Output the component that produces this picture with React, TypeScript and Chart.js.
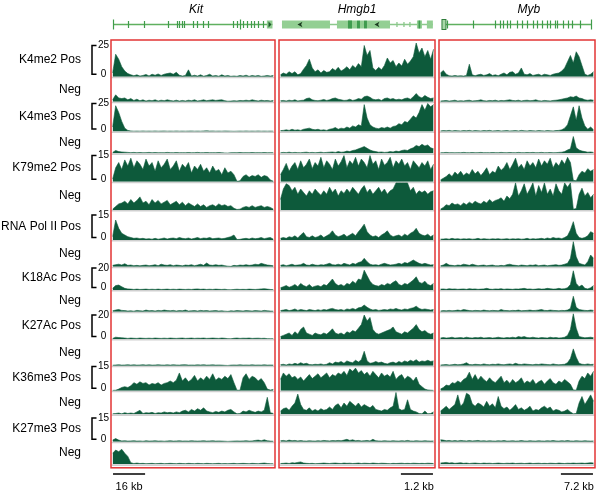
import React, { useEffect, useRef } from 'react';
import { Chart, registerables } from 'chart.js';

Chart.register(...registerables);

// ---------------- data (values in each track's scale units) ----------------
const GENES = ['Kit', 'Hmgb1', 'Myb'];
const MARKS = ['K4me2', 'K4me3', 'K79me2', 'RNA Pol II', 'K18Ac', 'K27Ac', 'K36me3', 'K27me3'];
const SCALE_TICKS = [25, 25, 15, 15, 20, 20, 15, 15];
const SCALE_BAR_LABELS = ['16 kb', '1.2 kb', '7.2 kb'];
const BINS = Array.from({ length: 54 }, (_, i) => i);

// Kit
const kitK4me2Pos = [3, 18, 14, 8, 4.5, 2.5, 1.5, 0.8, 1.5, 0.5, 1, 1.8, 0.6, 2, 1.2, 2.2, 1, 2, 2.5, 3, 2, 3.5, 1.2, 0.5, 1, 5.5, 0.5, 1.2, 0.5, 1.5, 0.4, 1, 2, 0.5, 1, 0.4, 1.5, 0.5, 1, 0.3, 0.6, 0.3, 1, 0.5, 1.2, 0.3, 1, 0.5, 1, 0.3, 0.6, 1, 0.5, 1];
const kitK4me2Neg = [1.5, 5.5, 3, 2.5, 3, 1.5, 2.5, 1, 2, 0.8, 1.5, 0.5, 1.2, 0.8, 1.5, 0.6, 1.2, 0.8, 1.5, 1, 0.6, 1.2, 0.5, 1, 0.6, 1.2, 0.8, 1.5, 0.6, 1, 1.5, 0.8, 1.2, 1.5, 1, 1.3, 1.5, 0.8, 0.4, 0.5, 0.8, 0.6, 1, 0.8, 1.2, 0.8, 1.5, 1, 0.6, 1.2, 0.8, 1, 0.6, 1];
const kitK4me3Pos = [4, 23, 17, 9, 3, 1, 0.5, 0.3, 0.4, 0.3, 0.5, 0.3, 0.4, 0.3, 0.5, 0.3, 0.4, 0.5, 0.3, 0.4, 0.3, 0.5, 0.3, 0.4, 0.3, 0.4, 0.5, 0.3, 0.4, 0.3, 0.5, 0.6, 0.4, 0.5, 0.3, 0.4, 0.3, 0.5, 0.4, 0.3, 0.2, 0.3, 0.4, 0.3, 0.5, 0.3, 0.4, 0.3, 0.5, 0.3, 0.4, 0.3, 0.4, 0.3];
const kitK4me3Neg = [0.8, 2.5, 1.5, 1.2, 1, 0.8, 0.6, 0.8, 0.5, 0.7, 0.5, 0.6, 0.8, 0.5, 0.7, 0.5, 0.6, 0.5, 0.8, 0.6, 0.5, 0.7, 0.5, 0.6, 0.5, 0.7, 0.5, 0.6, 0.8, 0.5, 0.6, 0.7, 0.5, 0.6, 0.5, 0.7, 0.5, 0.3, 0.2, 0.5, 0.6, 0.5, 0.7, 0.5, 0.6, 0.5, 0.7, 0.5, 0.6, 0.5, 0.7, 0.5, 0.6, 0.5];
const kitK79me2Pos = [1.5, 8, 11, 7, 12.5, 9, 13.5, 8, 12, 10, 7, 13, 9, 11, 6, 12, 8, 10, 13, 7, 9, 12, 6, 10, 8, 11, 5, 9, 7, 10, 6, 8, 5, 9, 6, 7, 4, 8, 5, 6, 4, 0.2, 0.5, 3, 4, 2.5, 3.5, 3, 4, 2.5, 3.5, 3, 1, 0.3];
const kitK79me2Neg = [0.5, 2, 3.5, 4, 5, 3.5, 6, 4, 5.5, 7.5, 4, 5, 3, 6, 4, 5.5, 3.5, 4.5, 5.5, 3, 4, 5, 3, 4.5, 2.5, 4, 3, 2, 3.5, 2, 3, 1.5, 2.5, 3, 2, 3.5, 2.5, 3, 2, 2.5, 1, 0.3, 0.5, 1.5, 2, 1.5, 2.5, 1.5, 2, 2.5, 1.5, 2, 1.5, 0.5];
const kitRnaPos = [2, 12, 7, 4, 3, 2, 1.5, 1, 1.2, 0.8, 1, 0.6, 0.8, 0.5, 1, 0.5, 0.8, 1.2, 0.6, 1, 1.2, 0.8, 1.5, 1, 0.8, 1.2, 0.6, 1, 1.5, 0.8, 1.2, 1, 1.5, 0.8, 1, 1.2, 0.8, 1, 1.5, 2, 3, 0.3, 0.4, 0.8, 1, 0.6, 1.2, 0.8, 1, 1.5, 0.8, 1.2, 1.5, 0.5];
const kitRnaNeg = [0.8, 1.2, 1.5, 1, 1.8, 0.8, 1, 0.6, 0.8, 0.5, 0.8, 1, 0.6, 0.8, 1.2, 0.6, 1.5, 1, 0.8, 1.2, 0.6, 1, 0.8, 0.5, 1, 0.8, 1.2, 0.6, 1, 1.5, 0.8, 2.2, 1, 0.8, 1.2, 0.8, 1, 0.6, 0.3, 0.2, 0.8, 0.6, 1, 0.8, 1.2, 0.8, 1, 1.5, 1.2, 2, 1.5, 1, 0.8, 0.5];
const kitK18AcPos = [1.5, 4, 4.5, 3, 1.5, 1, 0.8, 0.5, 0.8, 0.5, 0.6, 0.8, 0.5, 0.7, 0.5, 0.8, 0.5, 0.6, 0.8, 0.5, 0.7, 0.5, 0.8, 0.6, 0.5, 0.7, 0.5, 0.8, 1, 0.6, 0.8, 0.5, 0.7, 0.5, 0.8, 0.6, 0.5, 0.7, 0.3, 0.2, 0.5, 0.7, 0.5, 0.6, 0.5, 0.8, 0.6, 0.5, 0.7, 1, 1.2, 0.8, 0.5, 0.3];
const kitK18AcNeg = [0.8, 1.5, 2, 1.2, 1, 0.6, 0.8, 0.5, 1.2, 0.8, 0.6, 1.5, 0.8, 1, 0.6, 1.2, 0.8, 1.5, 1, 0.8, 1.2, 0.6, 1, 0.8, 1.5, 0.6, 0.8, 1, 0.6, 1.2, 0.8, 1, 0.6, 0.8, 1, 0.6, 0.8, 0.5, 0.3, 0.8, 0.6, 1, 0.8, 0.6, 1, 0.8, 0.6, 1, 0.8, 0.6, 1.2, 0.8, 0.6, 0.5];
const kitK27AcPos = [0.5, 1.5, 1.2, 1, 0.8, 0.5, 0.8, 0.6, 0.5, 0.8, 0.6, 0.5, 0.7, 0.5, 0.8, 0.6, 0.5, 0.7, 0.5, 0.8, 0.6, 0.5, 0.7, 0.8, 0.5, 0.6, 0.8, 0.5, 0.7, 0.6, 0.8, 0.5, 0.6, 0.8, 0.6, 0.5, 0.8, 0.6, 0.3, 0.2, 0.6, 0.8, 0.5, 0.7, 0.6, 0.8, 0.5, 0.6, 0.7, 0.5, 0.6, 0.3, 0.2, 0.2];
const kitK27AcNeg = [0.4, 0.6, 0.8, 0.5, 0.6, 0.8, 0.5, 0.7, 0.5, 0.6, 0.8, 0.5, 0.7, 0.5, 0.6, 0.8, 0.6, 0.5, 0.7, 0.5, 0.8, 0.6, 0.5, 0.7, 0.8, 0.5, 0.6, 0.5, 0.7, 0.6, 0.8, 0.5, 0.6, 0.7, 0.5, 0.6, 0.5, 0.3, 0.2, 0.5, 0.6, 0.5, 0.7, 0.5, 0.6, 0.5, 0.7, 0.5, 0.6, 0.5, 0.7, 0.5, 0.6, 0.5];
const kitK36me3Pos = [0.2, 0.3, 1, 2, 2.5, 2, 3, 5, 4, 5.5, 4.5, 5, 3.5, 4.5, 4, 5, 3.5, 4.5, 5, 6, 5, 6.5, 11, 6, 8, 5.5, 7, 9.5, 6, 8, 6.5, 9, 7, 10.5, 6.5, 8, 7, 9, 7.5, 10, 5, 0.3, 0.3, 8, 10.5, 7, 9, 8, 6, 7.5, 5, 1, 0.4, 0.8];
const kitK36me3Neg = [0.3, 0.5, 0.8, 0.3, 1, 0.5, 0.8, 0.5, 1.5, 2.5, 0.5, 1, 0.8, 1.2, 0.5, 1, 0.8, 1.5, 1, 1.2, 0.8, 1.5, 1, 2, 2.5, 1.5, 3, 2, 3.5, 2.5, 4, 2, 1.5, 1, 1.8, 1.2, 2, 1.5, 2.5, 3, 1.5, 0.3, 0.5, 2, 1.5, 2.5, 1.8, 1.2, 2, 1.5, 2.5, 10.5, 1, 0.5];
const kitK27me3Pos = [1, 2, 1, 0.5, 0.6, 0.4, 0.5, 0.6, 0.4, 0.5, 0.3, 0.6, 0.4, 0.5, 0.6, 0.4, 0.5, 0.3, 0.5, 0.6, 0.4, 0.5, 0.6, 0.4, 0.5, 0.4, 0.6, 0.5, 0.4, 0.5, 0.6, 0.4, 0.5, 0.6, 0.4, 0.5, 0.4, 0.3, 0.2, 0.3, 0.4, 0.5, 0.4, 0.5, 0.6, 0.4, 0.5, 0.8, 1, 0.6, 1.2, 0.6, 0.4, 0.3];
const kitK27me3Neg = [7, 9, 8, 9.5, 7, 5, 1, 0.5, 0.8, 0.5, 0.6, 0.4, 0.5, 0.6, 0.4, 0.5, 0.6, 0.4, 0.5, 0.6, 0.5, 0.4, 0.6, 0.5, 0.4, 0.6, 0.5, 0.4, 0.6, 0.5, 0.4, 0.6, 0.5, 0.4, 0.5, 0.6, 0.4, 0.5, 0.4, 0.5, 0.6, 0.4, 0.5, 0.6, 0.5, 0.4, 0.6, 0.5, 0.4, 0.6, 0.8, 0.5, 0.4, 0.3];

// Hmgb1
const hmgK4me2Pos = [1.5, 3, 2, 4, 2.5, 4, 1.5, 2.5, 6, 9, 14, 7, 4, 5.5, 3, 5, 3.5, 4, 6.5, 5, 7.5, 4.5, 6, 8, 5.5, 9, 7, 10.5, 8, 25, 17, 21, 7, 5, 7.5, 5.5, 9, 15, 11, 13, 8, 11, 8.5, 14, 10, 12.5, 16, 27, 19, 23, 16, 21, 14, 22];
const hmgK4me2Neg = [0.8, 1, 0.6, 1.2, 0.8, 1.5, 0.6, 1, 1.2, 2.5, 3, 1.5, 1, 0.8, 1.2, 1.8, 1, 1.5, 2.5, 3, 2, 1.5, 1, 1.2, 2, 1, 1.5, 2.5, 2, 4, 4.5, 3.5, 2, 1.5, 2, 1, 2.5, 3, 2, 2.5, 1.5, 2, 1.5, 2.5, 3, 2, 4, 6.5, 4, 3, 5, 3.5, 2.5, 3];
const hmgK4me3Pos = [0.8, 1, 1.5, 1, 2, 1.2, 1.5, 1, 2, 2.5, 3, 2, 1.5, 2, 1.2, 1.5, 1, 2, 2.5, 3.5, 2, 3, 2.5, 4, 3, 5, 4, 6, 5, 24, 12, 6, 4, 3, 2.5, 3.5, 3, 4, 3, 4.5, 5, 7, 6, 9, 8, 11, 14, 12, 17, 24, 19, 25, 22, 24];
const hmgK4me3Neg = [0.5, 0.8, 0.6, 1, 0.5, 0.8, 0.6, 0.5, 0.8, 1, 0.6, 0.8, 0.5, 0.7, 1, 0.6, 0.8, 1, 1.2, 0.8, 1.5, 1, 1.2, 2, 1.5, 2.5, 3, 4, 5, 6, 4.5, 3, 2, 1.5, 1, 1.2, 0.8, 1, 1.5, 1.2, 2, 1.5, 2.5, 3, 2.5, 4, 5, 7, 6, 8, 6.5, 7.5, 5, 4];
const hmgK79me2Pos = [4, 7, 10.5, 6, 9, 11, 7, 12, 8, 10, 13, 7.5, 11, 9, 14, 8, 12, 10, 7, 13, 9, 11.5, 15, 8, 12, 10, 14, 9, 13, 11, 8, 15, 10, 12, 7, 13, 9.5, 11, 14, 8, 12, 10, 13, 9, 11, 7, 12, 10, 8, 11, 9, 12, 7, 10];
const hmgK79me2Neg = [6, 12, 15, 14, 11, 13, 9, 12, 10, 8, 11, 9, 12, 10, 8.5, 11, 9, 13, 10, 12, 8, 11, 9.5, 12, 10, 13, 11, 9, 12, 14, 10, 12, 9, 11, 13, 10, 12, 9, 11, 12, 15.5, 15.5, 15.5, 15.5, 15.5, 11, 13, 9, 11, 10, 11, 9, 10.5, 11];
const hmgRnaPos = [1, 1.5, 1, 2, 1.5, 2.5, 1.2, 3, 4.5, 2, 1.5, 2.5, 1.5, 2, 3, 1.5, 2.5, 3.5, 5.5, 3, 2, 2.5, 3.5, 2, 3, 4, 2.5, 5, 7, 9.5, 5, 3, 2, 2.5, 1.5, 3, 4, 5.5, 3, 2, 2.5, 3, 2, 3.5, 2.5, 4, 5, 7, 4, 3, 2.5, 3.5, 2, 3];
const hmgRnaNeg = [0.8, 1.2, 0.6, 1, 1.5, 0.8, 1, 1.2, 2, 1, 0.8, 1.5, 1, 0.8, 1.2, 1, 1.5, 2, 1.2, 1, 1.5, 1, 2, 1.5, 1, 2, 1.5, 2.5, 3, 5, 3, 1.5, 1, 1.2, 0.8, 1.5, 2, 1.5, 1, 1.2, 1.5, 2, 1.5, 2.5, 2, 3, 4, 3, 2, 1.5, 2, 1.5, 1, 1.2];
const hmgK18AcPos = [2, 3, 4, 2.5, 3.5, 5, 3, 6, 4, 3, 5, 2.5, 3.5, 4, 3, 5, 4, 7, 10, 6, 4, 5, 3.5, 6, 5, 8, 6, 10, 9, 18, 13, 8, 5, 4, 3.5, 5, 4, 6, 5, 7, 8.5, 5, 4, 6, 5, 7, 9, 12, 7, 6, 8, 5, 4, 6];
const hmgK18AcNeg = [1, 1.5, 2, 1, 1.5, 2.5, 1.2, 2, 1.5, 1, 2, 1.5, 1, 1.8, 1.2, 2, 1.5, 2.5, 3, 2, 1.5, 2, 1.2, 2.5, 2, 3, 2, 3.5, 4, 6, 4, 2.5, 1.5, 2, 1.2, 1.5, 2, 1.5, 2.5, 2, 3, 2, 1.5, 2.5, 2, 3, 3.5, 5, 3, 2, 2.5, 2, 1.5, 2];
const hmgK27AcPos = [2, 3, 4, 5, 3, 6, 4, 8, 10, 5, 4, 3, 5, 4, 3.5, 5, 4, 6, 8.5, 5, 4, 5, 3.5, 6, 5, 7, 6, 9, 12, 20, 15, 18, 8, 5, 4, 5, 6, 7, 8, 10, 6, 5, 4, 6, 5, 7, 9, 12, 8, 6, 7, 5, 4, 5];
const hmgK27AcNeg = [0.8, 1.2, 0.6, 1.5, 1, 2, 1.2, 2.5, 1.5, 2, 1, 0.8, 1.2, 1, 1.5, 0.8, 1.2, 2.5, 1.5, 3, 2.5, 3.5, 2, 4, 3, 2.5, 4.5, 3, 5, 12, 4, 2, 2.5, 3.5, 2.5, 3, 2, 1.5, 2.5, 3, 2, 3.5, 2.5, 4, 3, 4.5, 3.5, 5, 3, 4, 3.5, 4.5, 3.5, 4];
const hmgK36me3Pos = [7, 11, 9, 10.5, 8, 9, 7, 8.5, 6, 8, 10, 7.5, 9, 10.5, 8, 9.5, 11, 8, 10, 9, 11, 10, 12, 9.5, 13.5, 12, 14, 11, 12.5, 10, 11.5, 9, 12, 10, 8, 11, 9, 10, 8.5, 12, 7, 9, 10, 7, 9, 8, 6, 8.5, 4, 2.5, 1, 0.5, 0.3, 0.2];
const hmgK36me3Neg = [2, 3.5, 4, 2.5, 5, 7, 12.5, 6, 3, 2.5, 4, 2, 3, 2, 3.5, 2.5, 3, 4.5, 3, 5.5, 6.5, 4, 7, 5, 8, 6.5, 5, 7, 4.5, 6, 5, 4, 5.5, 3, 2.5, 2, 3, 2.5, 4, 5, 13.5, 3.5, 2.5, 3, 9, 3, 2, 1.5, 0.5, 0.3, 2, 0.3, 0.5, 1.5];
const hmgK27me3Pos = [0.6, 0.8, 0.5, 1, 0.6, 0.8, 0.5, 0.7, 0.5, 0.4, 0.6, 0.5, 0.4, 0.6, 0.5, 0.8, 0.6, 0.5, 0.7, 0.6, 0.8, 0.6, 1, 1.5, 0.8, 1.2, 0.6, 0.8, 0.5, 0.6, 0.8, 0.5, 1.5, 0.6, 0.5, 0.4, 0.6, 0.5, 0.4, 0.6, 0.5, 0.4, 0.6, 0.5, 0.8, 0.5, 0.4, 0.6, 0.5, 0.4, 0.6, 0.5, 0.4, 0.5];
const hmgK27me3Neg = [0.5, 0.6, 0.8, 0.5, 1, 0.8, 1.2, 1.5, 0.8, 0.6, 0.5, 0.6, 0.4, 0.5, 0.6, 0.8, 0.6, 0.5, 0.7, 0.8, 0.6, 0.5, 0.8, 0.6, 0.7, 0.5, 0.6, 0.8, 0.5, 0.7, 0.6, 0.5, 0.8, 0.6, 0.5, 0.7, 0.6, 0.5, 0.4, 0.6, 0.5, 0.6, 0.7, 0.5, 0.6, 0.5, 0.7, 0.6, 0.5, 0.6, 0.5, 0.7, 0.6, 0.5];

// Myb
const mybK4me2Pos = [3, 5, 2, 0.8, 0.5, 1, 0.6, 0.8, 0.5, 1, 10, 1.5, 0.8, 1.5, 2, 1, 1.5, 2.5, 1, 1.5, 0.8, 2, 3, 1.5, 3.5, 4, 2, 3, 7, 2, 1.5, 2.5, 1, 1.5, 2, 1, 2, 1.5, 1, 2, 2.5, 3, 4.5, 7, 12, 17, 11, 20, 16, 9, 2, 1, 2, 4];
const mybK4me2Neg = [0.5, 0.8, 1, 0.5, 0.8, 1.2, 0.5, 0.8, 0.6, 1, 1.2, 0.6, 0.8, 1, 1.5, 0.8, 0.6, 1, 0.8, 1.2, 0.6, 1, 0.8, 1.2, 1.5, 1, 0.8, 1.2, 0.6, 1, 1.2, 0.8, 1, 1.5, 0.8, 0.6, 1, 0.8, 0.6, 1, 1.2, 1.5, 2, 2.5, 3, 4, 3.5, 4.5, 3, 2.5, 1.5, 1.2, 1.5, 1.2];
const mybK4me3Pos = [0.5, 0.8, 0.6, 1, 0.5, 0.8, 0.6, 0.5, 0.8, 0.6, 1, 0.5, 0.8, 0.6, 0.5, 0.8, 0.6, 1, 0.5, 0.6, 0.8, 0.5, 0.6, 0.8, 0.5, 0.6, 0.8, 0.5, 1, 0.6, 0.5, 0.8, 0.6, 0.5, 0.8, 0.6, 0.5, 0.8, 0.6, 0.5, 0.8, 1, 1.5, 3, 6, 14, 22, 10, 23, 12, 5, 2, 4, 1.5];
const mybK4me3Neg = [0.5, 0.6, 0.8, 0.5, 0.6, 0.4, 0.6, 0.5, 0.8, 0.6, 0.5, 0.7, 0.5, 0.6, 0.8, 0.5, 0.6, 0.5, 0.7, 0.6, 0.5, 0.8, 0.6, 0.5, 0.7, 0.6, 0.5, 0.8, 0.6, 0.5, 0.7, 0.6, 0.8, 0.5, 0.6, 0.8, 0.5, 0.6, 0.7, 0.5, 0.6, 0.8, 1, 1.5, 3, 4, 15, 5, 3, 2, 1.5, 1, 1.2, 0.8];
const mybK79me2Pos = [1, 2, 3, 4.5, 3, 5.5, 4, 6, 3.5, 5, 4, 7, 4.5, 6, 3.5, 5.5, 8, 4, 6, 5, 9, 6.5, 8, 11, 7, 10, 13.5, 8, 10, 7, 12, 9, 11, 8, 13, 9, 12, 10, 13.5, 8, 11, 9, 12.5, 10, 14, 11, 0.8, 0.5, 4, 6, 5, 7.5, 6, 7];
const mybK79me2Neg = [0.5, 1.5, 3, 2.5, 4, 3, 3.5, 2.5, 4, 3, 4.5, 3.5, 5, 4, 3.5, 5, 4, 6, 4.5, 5.5, 6, 7, 5, 8, 6.5, 9, 15.5, 8, 11, 15, 9, 12, 15.5, 8, 14, 10, 15.5, 9, 12, 8, 15, 11, 9, 15.5, 13, 15.5, 0.5, 0.8, 9, 12.5, 8, 10, 7, 9];
const mybRnaPos = [0.5, 0.6, 0.8, 0.5, 1, 0.6, 0.8, 0.5, 0.7, 0.6, 0.8, 0.5, 0.6, 1, 0.5, 0.8, 0.6, 0.5, 0.7, 0.6, 0.8, 0.5, 0.6, 0.8, 0.5, 0.7, 0.6, 0.8, 0.5, 0.6, 1, 0.5, 0.8, 0.6, 0.8, 1, 0.6, 1.2, 0.8, 1.5, 1, 1.2, 0.8, 1.5, 2.5, 6, 11, 4, 1.5, 1, 1.5, 2.5, 5, 4];
const mybRnaNeg = [0.5, 1, 2, 1, 0.8, 0.6, 1, 0.8, 1.5, 1.2, 0.8, 1.5, 1, 0.6, 0.8, 1, 0.6, 0.8, 1, 0.6, 0.5, 0.8, 0.6, 1.2, 1.5, 1, 0.8, 0.6, 1, 0.8, 0.6, 1, 0.8, 1.2, 0.6, 0.8, 1, 0.6, 0.8, 1, 1.2, 0.8, 1, 1.5, 2, 5, 15, 6, 2, 1.5, 1, 3, 7, 5];
const mybK18AcPos = [0.8, 1, 0.6, 1.2, 0.8, 1, 0.6, 0.8, 1, 0.6, 1.2, 0.8, 1, 0.6, 0.8, 1, 1.5, 0.8, 0.6, 1, 0.8, 1.2, 0.6, 1, 0.8, 0.6, 1, 0.8, 1.2, 1.5, 0.8, 1, 0.6, 0.8, 1.2, 0.8, 1, 1.5, 1.2, 0.8, 1, 1.5, 1, 1.2, 2, 5, 17.5, 6, 3, 4.5, 1.5, 1, 2, 4];
const mybK18AcNeg = [0.6, 1, 0.8, 1.2, 0.8, 1, 1.5, 1, 2, 1.5, 1, 0.8, 1.2, 1, 0.8, 1.5, 1, 0.8, 1.2, 1, 0.8, 2, 1.2, 1, 0.8, 1.2, 1, 1.5, 0.8, 1, 1.2, 1.5, 1, 1.2, 1.5, 2, 1.2, 1, 1.5, 1.2, 1, 0.8, 1.2, 1, 1.5, 3, 14, 4, 2, 1.5, 1.2, 1, 1.5, 1.2];
const mybK27AcPos = [0.8, 1.2, 0.8, 1, 1.5, 0.8, 1, 1.2, 0.8, 1.5, 1, 0.8, 1.2, 1, 1.5, 0.8, 1, 1.2, 0.8, 1, 1.5, 1, 0.8, 1.2, 1, 1.5, 1, 2, 1.5, 2, 1.2, 1, 1.5, 1, 0.8, 1.2, 1, 0.8, 1.5, 1, 1.2, 0.8, 1, 1.5, 3, 8, 21, 9, 2, 1.5, 1, 1.2, 1.5, 1];
const mybK27AcNeg = [0.5, 0.8, 1, 0.6, 0.8, 1.2, 0.8, 1, 1.5, 2.5, 1, 0.8, 1.2, 1, 0.8, 1.5, 1, 0.8, 1.2, 1, 1.5, 1, 0.8, 1.2, 1.5, 1, 2, 1.2, 1, 1.5, 1.2, 1, 0.8, 1.2, 1, 1.5, 1.2, 1, 0.8, 1.5, 1, 0.8, 1, 1.2, 2.5, 6, 14, 7, 2, 1.2, 1, 1.5, 1, 1.2];
const mybK36me3Pos = [1, 2, 3.5, 3, 5, 4.5, 6, 5, 7, 8, 11.5, 7, 10, 6.5, 9, 7, 5.5, 8, 6, 5, 7, 9, 5, 6.5, 4.5, 7, 5, 6, 8, 4.5, 6, 5, 7, 4, 5.5, 6.5, 4, 6, 7.5, 5, 4, 6, 5, 7, 5.5, 4, 0.5, 0.3, 6, 9, 7.5, 11, 9, 12];
const mybK36me3Neg = [2, 3.5, 5, 3, 4.5, 6, 12, 5, 7, 13, 12, 6.5, 5, 7, 6, 4.5, 8, 5, 6.5, 4, 11, 5, 3.5, 4.5, 2.5, 4, 6, 3, 4, 2.5, 3.5, 5, 2, 3, 2.5, 4, 5, 3.5, 4.5, 2, 3, 2.5, 1.5, 2, 3, 1.5, 0.3, 0.5, 7, 11, 6, 9, 12, 8];
const mybK27me3Pos = [1.2, 1, 0.6, 0.8, 0.5, 0.7, 0.5, 0.8, 0.6, 0.5, 0.7, 0.5, 0.6, 0.8, 0.5, 0.6, 0.4, 0.6, 0.5, 0.4, 0.6, 0.5, 0.7, 0.4, 0.5, 0.6, 0.4, 0.5, 0.7, 0.5, 0.4, 0.6, 0.5, 0.4, 0.6, 0.5, 0.4, 0.6, 0.5, 0.7, 0.5, 0.4, 0.6, 0.5, 0.7, 0.5, 0.4, 0.6, 0.5, 0.4, 0.6, 0.5, 0.4, 0.5];
const mybK27me3Neg = [0.8, 1, 1.2, 0.8, 1, 0.6, 0.8, 1, 0.6, 0.8, 0.5, 0.7, 0.8, 0.6, 0.5, 0.8, 0.6, 0.7, 0.5, 0.6, 0.8, 0.6, 0.5, 0.7, 0.6, 0.8, 0.5, 0.6, 0.7, 0.5, 0.6, 0.8, 0.5, 0.6, 0.7, 0.5, 0.6, 0.5, 0.7, 0.6, 0.5, 0.8, 0.6, 0.5, 0.7, 0.6, 0.8, 0.6, 0.7, 0.8, 0.6, 0.8, 1, 0.8];

const KIT_TRACKS = [kitK4me2Pos, kitK4me2Neg, kitK4me3Pos, kitK4me3Neg, kitK79me2Pos, kitK79me2Neg, kitRnaPos, kitRnaNeg, kitK18AcPos, kitK18AcNeg, kitK27AcPos, kitK27AcNeg, kitK36me3Pos, kitK36me3Neg, kitK27me3Pos, kitK27me3Neg];
const HMGB1_TRACKS = [hmgK4me2Pos, hmgK4me2Neg, hmgK4me3Pos, hmgK4me3Neg, hmgK79me2Pos, hmgK79me2Neg, hmgRnaPos, hmgRnaNeg, hmgK18AcPos, hmgK18AcNeg, hmgK27AcPos, hmgK27AcNeg, hmgK36me3Pos, hmgK36me3Neg, hmgK27me3Pos, hmgK27me3Neg];
const MYB_TRACKS = [mybK4me2Pos, mybK4me2Neg, mybK4me3Pos, mybK4me3Neg, mybK79me2Pos, mybK79me2Neg, mybRnaPos, mybRnaNeg, mybK18AcPos, mybK18AcNeg, mybK27AcPos, mybK27AcNeg, mybK36me3Pos, mybK36me3Neg, mybK27me3Pos, mybK27me3Neg];
const COLUMN_TRACKS = [KIT_TRACKS, HMGB1_TRACKS, MYB_TRACKS];

// gene models, in x-scale (bin) units
const KIT_EXONS = [0.23, 5.08, 10.46, 18.18, 21.15, 21.91, 22.8, 23.66, 26.63, 27.76, 29.93, 31.58, 39.83, 40.96, 42.05, 42.94, 44.26, 45.58, 46.67, 47.89, 49.74];
const KIT_SPAN = [0.13, 52.71];
const KIT_BLOCK = [50.86, 52.71];
const HMGB1_SPAN = [0.52, 52.77];
const HMGB1_LIGHT = [[0.52, 17.14], [19.56, 26.49], [27.5, 28.9], [29.95, 37.92], [47.26, 48.99], [50.7, 52.77]];
const HMGB1_DARK = [[23.37, 24.76], [26.49, 27.53], [28.91, 29.95], [47.8, 48.4]];
const HMGB1_TICKS = [40.34, 42.76, 44.83];
const HMGB1_ARROWS = [6.75, 33.41];
const MYB_SPAN = [0.52, 52.1];
const MYB_BLOCK = [0.52, 1.9];
const MYB_EXONS = [2.25, 11.25, 18.87, 20.6, 21.64, 23.03, 24.07, 26.5, 28.2, 29.95, 32, 33.4, 35.1, 36.8, 37.9, 39.6, 40.3, 42.4, 44.1, 45.5, 48.3, 52.1];

// ---------------- layout / style ----------------
const TRACK_SPANS = [35.7, 25, 29.8, 21.8, 28.4, 28.3, 30, 26.7, 23.3, 21.7, 27.3, 26.7, 25, 23.6, 27.4, 22.6];
const AXIS_MAX = [28.6, 20, 26.6, 19.5, 16.3, 16.2, 18, 16, 21.2, 19.7, 22.75, 22.25, 15.5, 14.6, 17.3, 14.3];
const COL_SPANS = [168, 160, 160];
const GENE_NAME_X = [27.5, 26.5, 30.6];
const SCALE_BARS = [[0.13, 10.7], [41.7, 52.8], [41.7, 52.8]];
const GREEN = '#0d5a3b';
const RED = 'rgb(226,52,52)';
const FONT = '"Liberation Sans", Arial, Helvetica, sans-serif';

const overlayPlugin = {
  id: 'overlay',
  beforeDatasetsDraw(chart: any) {
    const ctx = chart.ctx;
    ctx.save();
    ctx.strokeStyle = '#cfcfcf';
    ctx.lineWidth = 1.6;
    for (let c = 0; c < 3; c++) {
      const xs = chart.scales['x' + c];
      for (let t = 0; t < TRACK_SPANS.length; t++) {
        const ys = chart.scales['y' + t];
        const y = ys.getPixelForValue(0) + 0.8;
        ctx.beginPath();
        ctx.moveTo(xs.left + 2.5, y);
        ctx.lineTo(xs.right - 2.5, y);
        ctx.stroke();
      }
    }
    ctx.restore();
  },
  afterDraw(chart: any) {
    const ctx = chart.ctx;
    const area = chart.chartArea;
    ctx.save();

    // red boxes
    ctx.strokeStyle = RED;
    ctx.lineWidth = 1.5;
    for (let c = 0; c < 3; c++) {
      const xs = chart.scales['x' + c];
      ctx.strokeRect(xs.left + 2, area.top - 1, xs.right - xs.left - 4, area.bottom - area.top + 4.5);
    }

    // track labels, brackets, scale numbers
    ctx.fillStyle = '#000';
    ctx.strokeStyle = '#000';
    for (let m = 0; m < MARKS.length; m++) {
      const pos = chart.scales['y' + 2 * m];
      const neg = chart.scales['y' + (2 * m + 1)];
      const yTop = pos.getPixelForValue(SCALE_TICKS[m]);
      const yBot = pos.getPixelForValue(0) - 2.5;
      ctx.lineWidth = 1.5;
      ctx.beginPath();
      ctx.moveTo(96.5, yTop);
      ctx.lineTo(92, yTop);
      ctx.lineTo(92, yBot);
      ctx.lineTo(96.5, yBot);
      ctx.stroke();
      ctx.font = '10px ' + FONT;
      ctx.textAlign = 'center';
      ctx.textBaseline = 'middle';
      ctx.fillText(String(SCALE_TICKS[m]), 103.5, yTop);
      ctx.fillText('0', 103.5, yBot);
      ctx.font = '12px ' + FONT;
      ctx.textAlign = 'right';
      ctx.fillText(MARKS[m] + ' Pos', 81, (yTop + yBot) / 2);
      ctx.fillText('Neg', 81, (neg.top + neg.bottom) / 2);
    }

    // gene names
    ctx.font = 'italic 12px ' + FONT;
    ctx.textAlign = 'center';
    ctx.textBaseline = 'middle';
    GENES.forEach((g, c) => {
      ctx.fillText(g, chart.scales['x' + c].getPixelForValue(GENE_NAME_X[c]), 10);
    });

    const gy = 24.5;
    // Kit gene model
    {
      const xs = chart.scales.x0;
      ctx.strokeStyle = '#5fb05f';
      ctx.lineWidth = 1.5;
      ctx.beginPath();
      ctx.moveTo(xs.getPixelForValue(KIT_SPAN[0]), gy);
      ctx.lineTo(xs.getPixelForValue(KIT_SPAN[1]), gy);
      ctx.stroke();
      ctx.strokeStyle = '#3f9c4a';
      ctx.lineWidth = 1.2;
      KIT_EXONS.forEach((e, i) => {
        const px = Math.round(xs.getPixelForValue(e)) + 0.5;
        const h = i === 0 || i === 14 ? 5 : 3.5;
        ctx.beginPath();
        ctx.moveTo(px, gy - h);
        ctx.lineTo(px, gy + h);
        ctx.stroke();
      });
      ctx.fillStyle = '#8fcc8f';
      const b0 = xs.getPixelForValue(KIT_BLOCK[0]);
      const b1 = xs.getPixelForValue(KIT_BLOCK[1]);
      ctx.fillRect(b0, gy - 4, b1 - b0, 8);
      ctx.fillStyle = '#1e5a2c';
      ctx.beginPath();
      ctx.moveTo(b1 - 4, gy - 3);
      ctx.lineTo(b1 - 1, gy);
      ctx.lineTo(b1 - 4, gy + 3);
      ctx.closePath();
      ctx.fill();
    }
    // Hmgb1 gene model
    {
      const xs = chart.scales.x1;
      ctx.strokeStyle = '#8cc88c';
      ctx.lineWidth = 1.3;
      ctx.beginPath();
      ctx.moveTo(xs.getPixelForValue(HMGB1_SPAN[0]), gy);
      ctx.lineTo(xs.getPixelForValue(HMGB1_SPAN[1]), gy);
      ctx.stroke();
      ctx.fillStyle = '#93cf93';
      HMGB1_LIGHT.forEach(([a, b]) => {
        const p0 = xs.getPixelForValue(a);
        ctx.fillRect(p0, gy - 4, xs.getPixelForValue(b) - p0, 8);
      });
      ctx.fillStyle = '#3f9b4e';
      HMGB1_DARK.forEach(([a, b]) => {
        const p0 = xs.getPixelForValue(a);
        ctx.fillRect(p0, gy - 4, xs.getPixelForValue(b) - p0, 8);
      });
      ctx.strokeStyle = '#8cc88c';
      HMGB1_TICKS.forEach((e) => {
        const px = xs.getPixelForValue(e);
        ctx.beginPath();
        ctx.moveTo(px, gy - 2.5);
        ctx.lineTo(px, gy + 2.5);
        ctx.stroke();
      });
      ctx.fillStyle = '#1b3d20';
      HMGB1_ARROWS.forEach((e) => {
        const px = xs.getPixelForValue(e);
        ctx.beginPath();
        ctx.moveTo(px - 2.5, gy);
        ctx.lineTo(px + 2.5, gy - 2.8);
        ctx.lineTo(px + 1.2, gy);
        ctx.lineTo(px + 2.5, gy + 2.8);
        ctx.closePath();
        ctx.fill();
      });
    }
    // Myb gene model
    {
      const xs = chart.scales.x2;
      ctx.strokeStyle = '#5fb05f';
      ctx.lineWidth = 1.5;
      ctx.beginPath();
      ctx.moveTo(xs.getPixelForValue(MYB_SPAN[0]), gy);
      ctx.lineTo(xs.getPixelForValue(MYB_SPAN[1]), gy);
      ctx.stroke();
      const b0 = xs.getPixelForValue(MYB_BLOCK[0]);
      const b1 = xs.getPixelForValue(MYB_BLOCK[1]);
      ctx.fillStyle = '#a8d8a8';
      ctx.fillRect(b0, gy - 5, b1 - b0, 10);
      ctx.strokeStyle = '#2f7d3a';
      ctx.lineWidth = 1;
      ctx.strokeRect(b0, gy - 5, b1 - b0, 10);
      ctx.strokeStyle = '#3f9c4a';
      ctx.lineWidth = 1.2;
      MYB_EXONS.forEach((e, i) => {
        const px = Math.round(xs.getPixelForValue(e)) + 0.5;
        const h = i === MYB_EXONS.length - 1 ? 5 : 4;
        ctx.beginPath();
        ctx.moveTo(px, gy - h);
        ctx.lineTo(px, gy + h);
        ctx.stroke();
      });
    }

    // scale bars
    ctx.strokeStyle = '#000';
    ctx.fillStyle = '#000';
    ctx.lineWidth = 1.6;
    ctx.font = '11px ' + FONT;
    ctx.textBaseline = 'middle';
    SCALE_BARS.forEach(([a, b], c) => {
      const xs = chart.scales['x' + c];
      const p0 = xs.getPixelForValue(a);
      const p1 = xs.getPixelForValue(b);
      ctx.beginPath();
      ctx.moveTo(p0, 474);
      ctx.lineTo(p1, 474);
      ctx.stroke();
      if (c === 0) {
        ctx.textAlign = 'center';
        ctx.fillText(SCALE_BAR_LABELS[c], (p0 + p1) / 2, 487);
      } else {
        ctx.textAlign = 'right';
        ctx.fillText(SCALE_BAR_LABELS[c], p1 + 1, 487);
      }
    });
    ctx.restore();
  },
};

export default function App() {
  const ref = useRef<HTMLCanvasElement | null>(null);
  useEffect(() => {
    if (!ref.current) return;
    const scales: any = {};
    COL_SPANS.forEach((w, c) => {
      scales['x' + c] = {
        type: 'linear', position: 'bottom', stack: 'columns', stackWeight: w, weight: c,
        min: -1.2, max: 54.2, display: false,
      };
    });
    TRACK_SPANS.forEach((h, t) => {
      scales['y' + t] = {
        type: 'linear', position: 'left', stack: 'tracks', stackWeight: h, weight: 100 - t,
        min: 0, max: AXIS_MAX[t], display: false,
      };
    });
    const datasets: any[] = [];
    COLUMN_TRACKS.forEach((tracks, c) => {
      tracks.forEach((values, t) => {
        datasets.push({
          data: values,
          xAxisID: 'x' + c,
          yAxisID: 'y' + t,
          fill: 'origin',
          borderColor: GREEN,
          backgroundColor: GREEN,
          borderWidth: 0.6,
          pointRadius: 0,
          tension: 0,
        });
      });
    });
    const chart = new Chart(ref.current, {
      type: 'line',
      data: { labels: BINS, datasets },
      options: {
        animation: false,
        responsive: false,
        maintainAspectRatio: false,
        devicePixelRatio: 1,
        events: [],
        layout: { padding: { left: 109, right: 3, top: 41, bottom: 30.7 } },
        plugins: { legend: { display: false }, tooltip: { enabled: false } },
        scales,
      },
      plugins: [overlayPlugin],
    } as any);
    return () => chart.destroy();
  }, []);
  return (
    <div style={{ position: 'absolute', left: 0, top: 0, width: 600, height: 495, background: '#fff' }}>
      <canvas ref={ref} width={600} height={495} style={{ width: 600, height: 495, display: 'block' }} />
    </div>
  );
}
